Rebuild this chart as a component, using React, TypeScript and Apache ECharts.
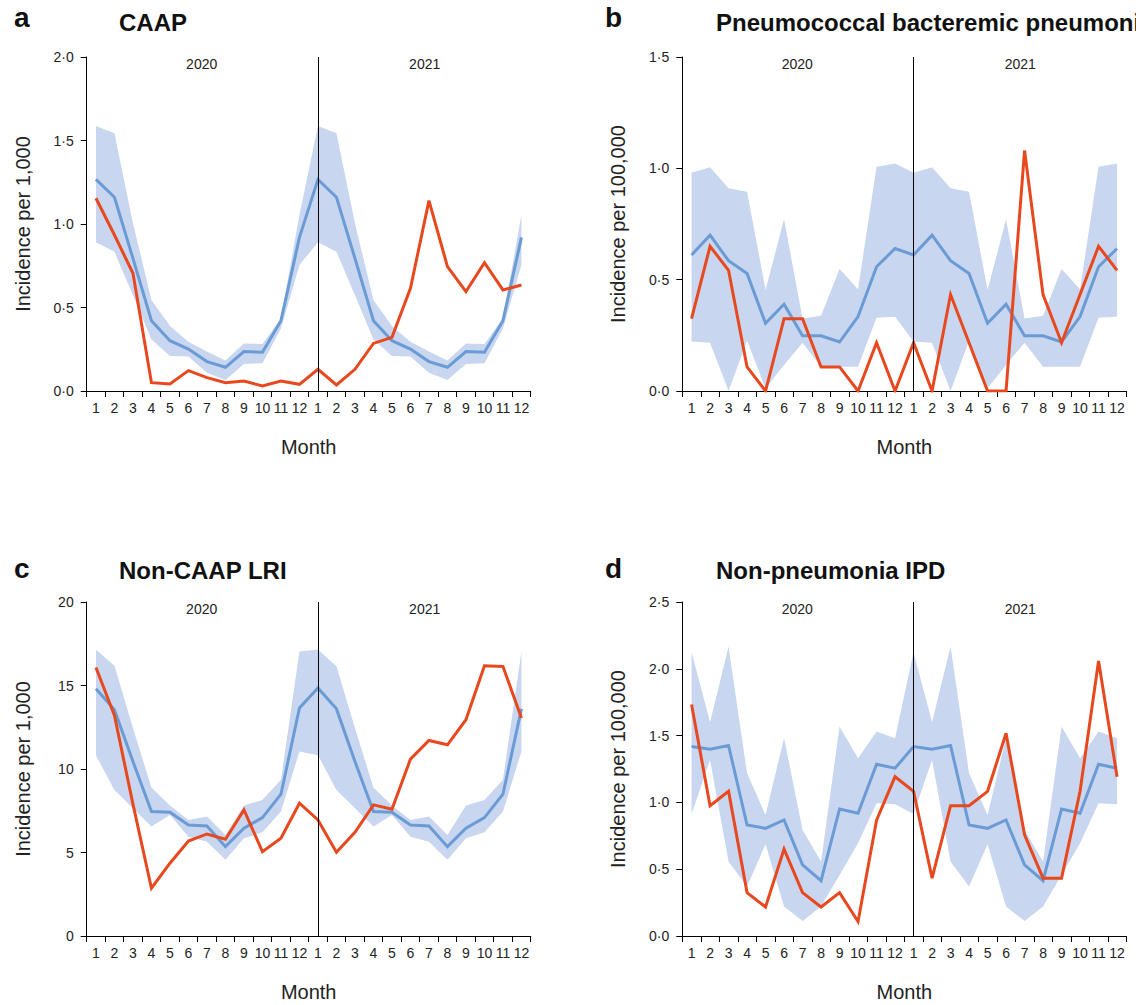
import React, { useEffect, useRef } from "react";
import * as echarts from "echarts";

// ---------- data ----------
const months = ["1", "2", "3", "4", "5", "6", "7", "8", "9", "10", "11", "12", "1", "2", "3", "4", "5", "6", "7", "8", "9", "10", "11", "12"];
const yearLabels = ["2020", "2021"];

// a: CAAP (per 1,000)
const caapExpected = [1.267, 1.16, 0.794, 0.421, 0.301, 0.251, 0.176, 0.142, 0.236, 0.232, 0.421, 0.92, 1.267, 1.16, 0.794, 0.421, 0.301, 0.251, 0.176, 0.142, 0.236, 0.232, 0.421, 0.92];
const caapUpper = [1.587, 1.543, 1.004, 0.545, 0.389, 0.295, 0.236, 0.182, 0.285, 0.281, 0.435, 1.054, 1.587, 1.543, 1.004, 0.545, 0.389, 0.295, 0.236, 0.182, 0.285, 0.281, 0.435, 1.054];
const caapLower = [0.89, 0.834, 0.573, 0.309, 0.21, 0.206, 0.11, 0.066, 0.162, 0.166, 0.375, 0.754, 0.89, 0.834, 0.573, 0.309, 0.21, 0.206, 0.11, 0.066, 0.162, 0.166, 0.375, 0.754];
const caapObserved = [1.154, 0.934, 0.705, 0.05, 0.042, 0.122, 0.08, 0.05, 0.06, 0.03, 0.06, 0.04, 0.13, 0.036, 0.13, 0.285, 0.321, 0.615, 1.14, 0.745, 0.595, 0.768, 0.605, 0.635];

// b: Pneumococcal bacteremic pneumonia (per 100,000)
const pbpExpected = [0.611, 0.7, 0.585, 0.528, 0.304, 0.39, 0.248, 0.248, 0.22, 0.334, 0.558, 0.64, 0.611, 0.7, 0.585, 0.528, 0.304, 0.39, 0.248, 0.248, 0.22, 0.334, 0.558, 0.64];
const pbpUpper = [0.98, 1.005, 0.91, 0.895, 0.454, 0.771, 0.326, 0.338, 0.548, 0.457, 1.007, 1.022, 0.98, 1.005, 0.91, 0.895, 0.454, 0.771, 0.326, 0.338, 0.548, 0.457, 1.007, 1.022];
const pbpLower = [0.222, 0.217, 0, 0.226, 0.012, 0.117, 0.217, 0.109, 0.109, 0.109, 0.329, 0.334, 0.222, 0.217, 0, 0.226, 0.012, 0.117, 0.217, 0.109, 0.109, 0.109, 0.329, 0.334];
const pbpObserved = [0.325, 0.65, 0.542, 0.108, 0, 0.325, 0.325, 0.108, 0.108, 0, 0.217, 0, 0.217, 0, 0.433, 0.217, 0, 0, 1.08, 0.433, 0.217, 0.433, 0.65, 0.542];

// c: Non-CAAP LRI (per 1,000)
const lriExpected = [14.8, 13.55, 10.45, 7.45, 7.41, 6.65, 6.59, 5.35, 6.45, 7.09, 8.49, 13.65, 14.85, 13.6, 10.45, 7.45, 7.41, 6.65, 6.59, 5.35, 6.45, 7.09, 8.49, 13.6];
const lriUpper = [17.14, 16.18, 12.45, 8.89, 7.81, 6.95, 7.15, 6.05, 7.81, 8.15, 9.35, 17.04, 17.16, 16.16, 12.45, 8.89, 7.81, 6.95, 7.15, 6.05, 7.81, 8.15, 9.35, 17.04];
const lriLower = [10.81, 8.75, 7.65, 6.55, 7.25, 5.95, 5.65, 4.56, 5.85, 6.21, 7.45, 11.05, 10.83, 8.75, 7.65, 6.55, 7.25, 5.95, 5.65, 4.56, 5.85, 6.21, 7.45, 11.05];
const lriObserved = [16.08, 13.21, 7.9, 2.86, 4.36, 5.69, 6.11, 5.79, 7.55, 5.05, 5.85, 7.95, 6.95, 5.01, 6.21, 7.85, 7.59, 10.59, 11.71, 11.45, 12.95, 16.18, 16.14, 13.05];

// d: Non-pneumonia IPD (per 100,000)
const ipdExpected = [1.418, 1.398, 1.426, 0.831, 0.806, 0.869, 0.532, 0.414, 0.951, 0.919, 1.286, 1.256, 1.418, 1.398, 1.426, 0.831, 0.806, 0.869, 0.532, 0.414, 0.951, 0.919, 1.286, 1.256];
const ipdUpper = [2.125, 1.6, 2.167, 1.218, 0.906, 1.481, 0.794, 0.557, 1.568, 1.331, 1.531, 1.481, 2.125, 1.6, 2.167, 1.218, 0.906, 1.481, 0.794, 0.557, 1.568, 1.331, 1.531, 1.481];
const ipdLower = [0.914, 1.318, 0.557, 0.37, 0.687, 0.22, 0.112, 0.22, 0.457, 0.694, 0.994, 0.986, 0.914, 1.318, 0.557, 0.37, 0.687, 0.22, 0.112, 0.22, 0.457, 0.694, 0.994, 0.986];
const ipdObserved = [1.733, 0.975, 1.083, 0.325, 0.217, 0.65, 0.325, 0.217, 0.325, 0.108, 0.867, 1.192, 1.083, 0.433, 0.975, 0.975, 1.083, 1.517, 0.758, 0.433, 0.433, 1.083, 2.058, 1.192];

// ---------- style ----------
const FONT = "'Liberation Sans', Arial, Helvetica, sans-serif";
const TEXT = "#222222";
const RED = "#e8481e";
const BLUE = "#6a9bd5";
const BAND = "#c9d6ef";

const panels = [
  { letter: "a", title: "CAAP", yName: "Incidence per 1,000", max: 2, interval: 0.5, dec: 1, lower: caapLower, upper: caapUpper, expected: caapExpected, observed: caapObserved, left: 86.7, top: 57, letterX: 14, letterY: 17.5, titleX: 119, titleY: 22.5 },
  { letter: "b", title: "Pneumococcal bacteremic pneumonia", yName: "Incidence per 100,000", max: 1.5, interval: 0.5, dec: 1, lower: pbpLower, upper: pbpUpper, expected: pbpExpected, observed: pbpObserved, left: 682.3, top: 57, letterX: 605, letterY: 17.5, titleX: 716, titleY: 22.5 },
  { letter: "c", title: "Non-CAAP LRI", yName: "Incidence per 1,000", max: 20, interval: 5, dec: 0, lower: lriLower, upper: lriUpper, expected: lriExpected, observed: lriObserved, left: 86.7, top: 602, letterX: 14, letterY: 568, titleX: 119, titleY: 570.5 },
  { letter: "d", title: "Non-pneumonia IPD", yName: "Incidence per 100,000", max: 2.5, interval: 0.5, dec: 1, lower: ipdLower, upper: ipdUpper, expected: ipdExpected, observed: ipdObserved, left: 682.3, top: 602, letterX: 605, letterY: 568, titleX: 716, titleY: 570.5 },
];

const GRID_W = 444;
const GRID_H = 334;

export default function App() {
  const ref = useRef<HTMLDivElement>(null);

  useEffect(() => {
    document.body.style.margin = "0";
    const chart = echarts.init(ref.current as HTMLDivElement, null, { renderer: "svg" });

    const grid: any[] = [];
    const xAxis: any[] = [];
    const yAxis: any[] = [];
    const series: any[] = [];
    const graphic: any[] = [];

    panels.forEach((p, i) => {
      grid.push({ left: p.left, top: p.top, width: GRID_W, height: GRID_H, containLabel: false });
      xAxis.push({
        type: "category",
        gridIndex: i,
        data: months,
        boundaryGap: true,
        name: "Month",
        nameLocation: "middle",
        nameGap: 46,
        nameTextStyle: { fontSize: 20, color: TEXT, fontFamily: FONT },
        axisLine: { show: true, lineStyle: { color: "#000", width: 1 } },
        axisTick: { show: true, length: 6, interval: 0, lineStyle: { color: "#000", width: 1 } },
        axisLabel: { interval: 0, margin: 10, fontSize: 14, color: TEXT, fontFamily: FONT },
        splitLine: { show: false },
      });
      yAxis.push({
        type: "value",
        gridIndex: i,
        min: 0,
        max: p.max,
        interval: p.interval,
        name: p.yName,
        nameLocation: "middle",
        nameGap: 54,
        nameTextStyle: { fontSize: 20, color: TEXT, fontFamily: FONT },
        axisLine: { show: true, lineStyle: { color: "#000", width: 1 } },
        axisTick: { show: true, length: 6, lineStyle: { color: "#000", width: 1 } },
        axisLabel: {
          margin: 13,
          fontSize: 14,
          color: TEXT,
          fontFamily: FONT,
          formatter: (v: number) => (p.dec ? v.toFixed(p.dec).replace(".", "\u00b7") : String(v)),
        },
        splitLine: { show: false },
      });

      const stackId = "band" + i;
      series.push({
        type: "line",
        xAxisIndex: i,
        yAxisIndex: i,
        data: p.lower,
        stack: stackId,
        symbol: "none",
        silent: true,
        lineStyle: { opacity: 0 },
        z: 1,
      });
      series.push({
        type: "line",
        xAxisIndex: i,
        yAxisIndex: i,
        data: p.upper.map((u, k) => +(u - p.lower[k]).toFixed(4)),
        stack: stackId,
        symbol: "none",
        silent: true,
        lineStyle: { opacity: 0 },
        areaStyle: { color: BAND, opacity: 1 },
        z: 1,
      });
      series.push({
        type: "line",
        xAxisIndex: i,
        yAxisIndex: i,
        data: p.expected,
        symbol: "none",
        lineStyle: { color: BLUE, width: 3, join: "miter" },
        z: 3,
      });
      series.push({
        type: "line",
        xAxisIndex: i,
        yAxisIndex: i,
        data: p.observed,
        symbol: "none",
        lineStyle: { color: RED, width: 3, join: "miter" },
        z: 4,
        markLine: {
          silent: true,
          symbol: ["none", "none"],
          label: { show: false },
          lineStyle: { color: "#000", width: 1, type: "solid" },
          data: [{ xAxis: 12 }],
          z: 5,
        },
      });

      graphic.push({
        type: "text",
        x: p.letterX,
        y: p.letterY,
        style: { text: p.letter, font: `bold 28px ${FONT}`, fill: "#111", verticalAlign: "middle", align: "left" },
      });
      graphic.push({
        type: "text",
        x: p.titleX,
        y: p.titleY,
        style: { text: p.title, font: `bold 24px ${FONT}`, fill: "#111", verticalAlign: "middle", align: "left" },
      });
      yearLabels.forEach((yl, k) => {
        graphic.push({
          type: "text",
          x: p.left + (k === 0 ? 115 : 338),
          y: p.top + 6.5,
          style: { text: yl, font: `14px ${FONT}`, fill: TEXT, verticalAlign: "middle", align: "center" },
        });
      });
    });

    chart.setOption({
      animation: false,
      backgroundColor: "#ffffff",
      grid,
      xAxis,
      yAxis,
      series,
      graphic,
    });

    return () => chart.dispose();
  }, []);

  return <div ref={ref} style={{ width: 1136, height: 1005 }} />;
}
